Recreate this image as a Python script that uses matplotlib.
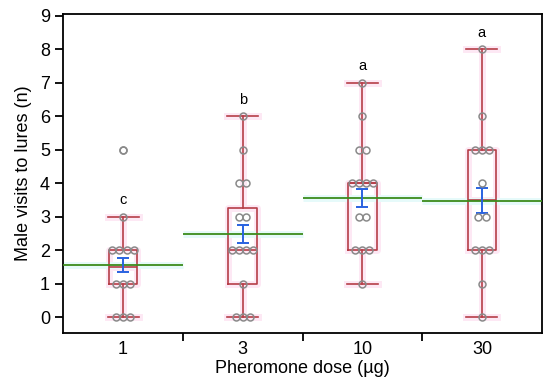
import numpy as np
import matplotlib.pyplot as plt

plt.rcParams['font.family'] = ['Liberation Sans', 'DejaVu Sans']

doses = ["1", "3", "10", "30"]
# individual counts per dose
visits = [
    [0, 0, 0, 1, 1, 1, 2, 2, 2, 2, 3, 5],
    [0, 0, 0, 1, 2, 2, 2, 2, 3, 3, 4, 4, 5, 6],
    [1, 2, 2, 2, 3, 3, 4, 4, 4, 4, 5, 5, 6, 7],
    [0, 1, 2, 2, 2, 3, 3, 4, 5, 5, 5, 6, 8],
]
# box statistics
q1 = [1, 1, 2, 2]
med = [1.5, 2, 4, 3.5]
q3 = [2, 3.25, 4, 5]
wlo = [0, 0, 1, 0]
whi = [3, 6, 7, 8]
fliers = [[5], [], [], []]
means = [1.55, 2.47, 3.55, 3.47]
ses = [0.2, 0.27, 0.27, 0.37]
letters = ["c", "b", "a", "a"]

red = "#b63e48"
pink = "#fde8f4"
green = "#3c8c1c"
cyan = "#e6fafa"
blue = "#2962e0"
grey = "#8a8a8a"

fig, ax = plt.subplots(figsize=(5.5, 3.86), dpi=100)
fig.subplots_adjust(left=0.115, right=0.985, bottom=0.137, top=0.964)

pos = np.arange(len(doses))
stats = []
for i in range(len(doses)):
    stats.append(dict(med=med[i], q1=q1[i], q3=q3[i], whislo=wlo[i], whishi=whi[i], fliers=[]))

# pale glow under the box lines
for col, lw, z in [(pink, 5, 1), (red, 1.2, 3)]:
    ax.bxp(stats, positions=pos, widths=0.24, showfliers=False, manage_ticks=False,
           boxprops=dict(color=col, lw=lw, zorder=z),
           whiskerprops=dict(color=col, lw=lw, zorder=z),
           capprops=dict(color=col, lw=lw, zorder=z),
           medianprops=dict(color=col, lw=lw, zorder=z),
           capwidths=0.26)

# group means
ax.hlines(means, pos - 0.5, pos + 0.5, color=cyan, lw=5, zorder=2)
ax.hlines(means, pos - 0.5, pos + 0.5, color=green, lw=1.3, zorder=4)
ax.errorbar(pos, means, yerr=ses, fmt="none", ecolor=blue, elinewidth=1.4,
            capsize=4, capthick=1.4, zorder=5)

# raw points, spread sideways where they stack
for i, vals in enumerate(visits):
    vals = np.array(vals)
    for v in np.unique(vals):
        k = np.sum(vals == v)
        xs = pos[i] + (np.arange(k) - (k - 1) / 2) * 0.06
        ax.plot(xs, [v] * k, "o", ms=5, mfc="none", mec=grey, mew=1.1, zorder=6)
    ax.plot([pos[i]] * len(fliers[i]), fliers[i], "o", ms=5, mfc="none", mec=grey,
            mew=1.1, zorder=6)
    ax.text(pos[i], whi[i] + 0.28, letters[i], ha="center", va="bottom", fontsize=10.5)

ax.set_xlim(-0.5, 3.5)
ax.set_ylim(-0.48, 9.05)
ax.set_yticks(range(10))
ax.set_xticks(pos)
ax.set_xticklabels(doses)
ax.set_xticks(pos[:-1] + 0.5, minor=True)
ax.tick_params(axis="x", which="major", length=0, labelsize=13, pad=6)
ax.tick_params(axis="x", which="minor", length=6, width=1.3, direction="out")
ax.tick_params(axis="y", length=6, width=1.3, labelsize=13)
for s in ax.spines.values():
    s.set_linewidth(1.3)

ax.set_xlabel("Pheromone dose (µg)", fontsize=13, labelpad=1)
ax.set_ylabel("Male visits to lures (n)", fontsize=13, labelpad=6)

fig.savefig("out.png")
